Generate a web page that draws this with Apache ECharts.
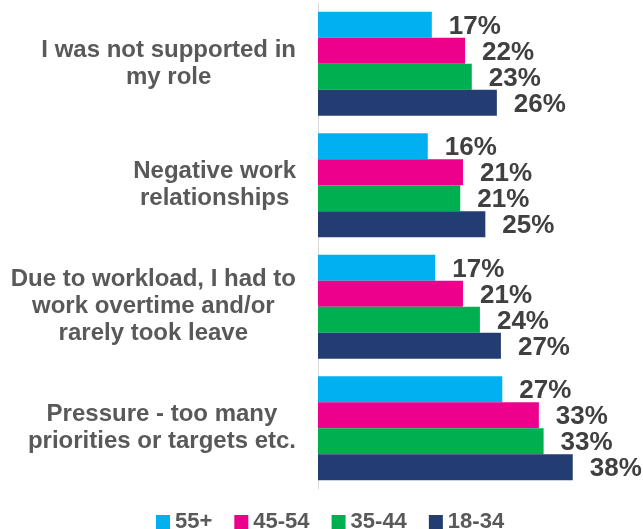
<!DOCTYPE html>
<html>
<head>
<meta charset="utf-8">
<script src="https://cdn.jsdelivr.net/npm/echarts@6/dist/echarts.min.js"></script>
<style>html,body{margin:0;padding:0;background:#fff;}#c{width:643px;height:529px;}</style>
</head>
<body>
<div id="c"></div>
<script>
const categories = [
  "I was not supported in\nmy role",
  "Negative work\nrelationships",
  "Due to workload, I had to\nwork overtime and/or\nrarely took leave",
  "Pressure - too many\npriorities or targets etc."
];
const seriesNames = ["55+", "45-54", "35-44", "18-34"];
const s55plus = [16.8, 16.2, 17.3, 27.2];
const s45_54 = [21.7, 21.4, 21.4, 32.6];
const s35_44 = [22.7, 21.0, 23.9, 33.3];
const s18_34 = [26.4, 24.7, 27.0, 37.6];
const seriesData = [s55plus, s45_54, s35_44, s18_34];
const colors = ["#00B0F0", "#EC008C", "#00B050", "#233D73"];

const chart = echarts.init(document.getElementById('c'));
const font = "'Liberation Sans', Arial, sans-serif";
chart.setOption({
  animation: false,
  backgroundColor: '#ffffff',
  grid: { left: 318, right: 54, top: 3, height: 486, containLabel: false },
  xAxis: { type: 'value', min: 0, max: 40, show: false },
  yAxis: {
    type: 'category',
    data: categories,
    inverse: true,
    axisLine: { show: true, lineStyle: { color: '#D9D9D9', width: 1 } },
    axisTick: { show: false },
    splitLine: { show: false },
    axisLabel: {
      margin: 22,
      align: 'right',
      formatter: function (v) {
        return v.split('\n').map(function (l) { return '{c|' + l + '}'; }).join('\n');
      },
      rich: {
        c: { align: 'center', fontSize: 24, fontWeight: 'bold', color: '#595959', fontFamily: font, lineHeight: 27 }
      }
    }
  },
  legend: {
    top: 505,
    left: 151,
    itemWidth: 14,
    itemHeight: 14,
    itemGap: 22,
    icon: 'rect',
    textStyle: { fontSize: 22, fontWeight: 'bold', color: '#595959', fontFamily: font, lineHeight: 24 },
    data: seriesNames
  },
  series: seriesNames.map(function (name, i) {
    return {
      name: name,
      type: 'bar',
      data: seriesData[i],
      barWidth: 26,
      barGap: '0%',
      itemStyle: { color: colors[i] },
      label: {
        show: true,
        position: 'right',
        distance: 17,
        fontSize: 26,
        fontWeight: 'bold',
        color: '#404040',
        fontFamily: font,
        offset: [0, 2],
        formatter: function (p) { return Math.round(p.value) + '%'; }
      }
    };
  })
});
</script>
</body>
</html>
